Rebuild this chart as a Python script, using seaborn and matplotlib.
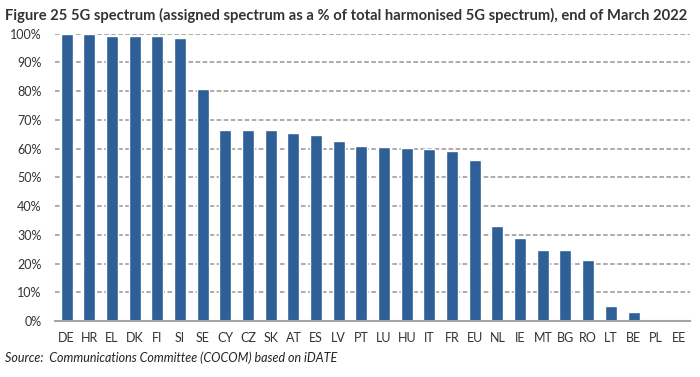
import matplotlib
matplotlib.use("Agg")
import matplotlib.pyplot as plt
import seaborn as sns
import pandas as pd
from matplotlib.ticker import PercentFormatter

countries = ["DE", "HR", "EL", "DK", "FI", "SI", "SE", "CY", "CZ", "SK", "AT", "ES", "LV",
             "PT", "LU", "HU", "IT", "FR", "EU", "NL", "IE", "MT", "BG", "RO", "LT", "BE", "PL", "EE"]
values = [100, 100, 99.1, 99.1, 99.1, 98.4, 80.6, 66.6, 66.6, 66.6, 65.6, 64.9, 62.6,
          60.9, 60.6, 60.1, 60.0, 59.2, 56.0, 33.0, 28.9, 24.8, 24.8, 21.3, 5.2, 3.2, 0, 0]

df = pd.DataFrame({"country": countries, "value": values})

sns.set_theme(style="white")
plt.rcParams["font.family"] = ["Lato", "DejaVu Sans"]

fig = plt.figure(figsize=(7.0, 3.77), dpi=100)
ax = fig.add_axes([0.079, 0.1485, 0.907, 0.762])

sns.barplot(data=df, x="country", y="value", color="#2f5f97", width=0.53,
            saturation=1, ax=ax, zorder=3)

ax.set_ylim(0, 100)
ax.set_yticks(range(0, 101, 10))
ax.yaxis.set_major_formatter(PercentFormatter(decimals=0))
ax.set_xlim(-0.5, len(countries) - 0.5)
ax.yaxis.grid(True, linestyle=(0, (3, 1.6)), color="#959595", linewidth=1.1, zorder=0)
ax.set_axisbelow(True)
for s in ["top", "right", "left"]:
    ax.spines[s].set_visible(False)
ax.spines["bottom"].set_color("#a6a6a6")
ax.spines["bottom"].set_linewidth(1.5)
ax.spines["bottom"].set_zorder(4)
ax.tick_params(axis="both", length=0, labelsize=9, colors="#333333")
ax.tick_params(axis="x", pad=8)
ax.tick_params(axis="y", pad=10)
ax.set_xlabel("")
ax.set_ylabel("")

fig.text(0.007, 0.978, "Figure 25 5G spectrum (assigned spectrum as a % of total harmonised 5G spectrum), end of March 2022",
         fontsize=10.6, fontweight="bold", color="#333333", va="top", ha="left")
fig.text(0.007, 0.052, "Source:  Communications Committee (COCOM) based on iDATE",
         fontsize=9, style="italic", color="#222222", va="center", ha="left")

fig.savefig("out.png", dpi=100)
